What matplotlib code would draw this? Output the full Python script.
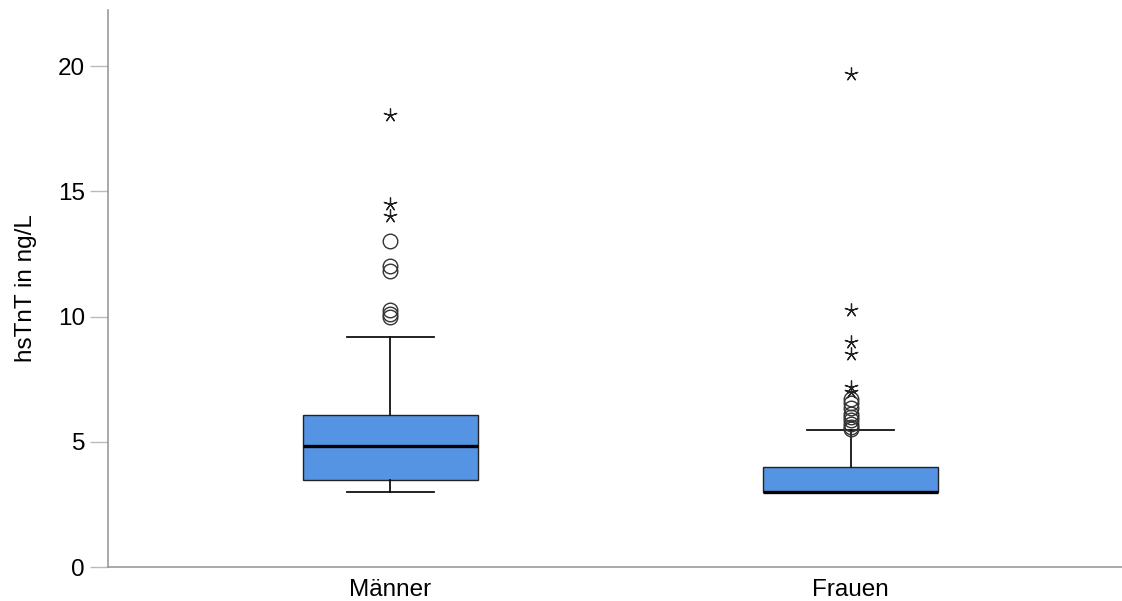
import matplotlib
matplotlib.use("Agg")
import matplotlib.pyplot as plt

plt.rcParams['font.family'] = ['Liberation Sans', 'DejaVu Sans']

categories = ["Männer", "Frauen"]
q1 = [3.47, 3.0]
median = [4.83, 3.0]
q3 = [6.07, 4.0]
whisker_low = [3.0, 3.0]
whisker_high = [9.18, 5.47]
# outliers (circles) and extreme values (stars)
outliers_maenner = [9.98, 10.1, 10.26, 11.82, 12.0, 13.0]
extremes_maenner = [14.0, 14.5, 18.05]
outliers_frauen = [5.5, 5.6, 5.7, 5.85, 6.0, 6.1, 6.35, 6.55, 6.7]
extremes_frauen = [7.0, 7.2, 8.5, 9.0, 10.28, 19.7]
yticks = [0, 5, 10, 15, 20]

outliers = [outliers_maenner, outliers_frauen]
extremes = [extremes_maenner, extremes_frauen]

fig = plt.figure(figsize=(11.22, 6.01), dpi=100)
ax = fig.add_axes([108/1122, 34/601, 1 - 108/1122, (567-10)/601])

stats = []
for i, c in enumerate(categories):
    stats.append(dict(label=c, q1=q1[i], med=median[i], q3=q3[i],
                      whislo=whisker_low[i], whishi=whisker_high[i], fliers=[]))

pos = [1, 2]
ax.bxp(stats, positions=pos, widths=0.38, patch_artist=True, showfliers=False,
       boxprops=dict(facecolor='#5594E2', edgecolor='#222222', linewidth=1.0),
       medianprops=dict(color='black', linewidth=2.4),
       whiskerprops=dict(color='#111111', linewidth=1.3),
       capprops=dict(color='#111111', linewidth=1.3),
       capwidths=0.19, zorder=2)

for i, p in enumerate(pos):
    ax.plot([p] * len(outliers[i]), outliers[i], linestyle='none', marker='o',
            markersize=10.5, markerfacecolor='none', markeredgecolor='#333333',
            markeredgewidth=1.0, zorder=3)
    ax.plot([p] * len(extremes[i]), extremes[i], linestyle='none', marker=(5, 2, 0),
            markersize=10, markeredgecolor='#222222', markeredgewidth=0.9, zorder=3)

ax.set_xlim(0.386, 2.59)
ax.set_ylim(0, 22.24)
ax.set_yticks(yticks)
ax.set_yticklabels([str(t) for t in yticks])
ax.set_xticks(pos)
ax.set_xticklabels(categories)
ax.tick_params(axis='y', length=13, width=1.0, color='#bbbbbb', labelsize=17.5, pad=3.5)
ax.tick_params(axis='x', length=0, labelsize=17.5, pad=8.5)
for s in ['top', 'right']:
    ax.spines[s].set_visible(False)
for s in ['left', 'bottom']:
    ax.spines[s].set_color('#999999')
    ax.spines[s].set_linewidth(1.2)
ax.set_ylabel("hsTnT in ng/L", fontsize=17.5, labelpad=15)

fig.savefig("out.png", dpi=100)
